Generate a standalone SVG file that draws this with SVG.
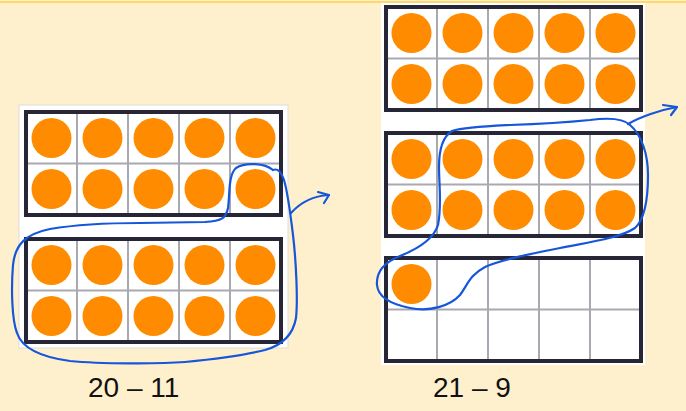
<svg xmlns="http://www.w3.org/2000/svg" xmlns:xlink="http://www.w3.org/1999/xlink" width="686" height="411" viewBox="0 0 686 411">
  <style>
    .panel { fill: #ffffff; stroke: #dcdcdc; stroke-width: 1; }
    .cell { fill: #ffffff; }
    .grid { stroke: #a9a9b2; stroke-width: 2; fill: none; }
    .border { fill: none; stroke: #262637; stroke-width: 4; }
    .dot { fill: #ff8c00; }
    .lasso { fill: none; stroke: #1656db; stroke-width: 2.2; stroke-linecap: round; stroke-linejoin: round; }
    .label { font-family: "Liberation Sans", Arial, sans-serif; font-size: 28px; fill: #111111; }
  </style>
  <defs>
    <g id="frame">
      <rect class="cell" x="0" y="0" width="255" height="103"/>
      <path class="grid" d="M51,0V103M102,0V103M153,0V103M204,0V103M0,51.5H255"/>
      <rect class="border" x="0" y="0" width="255" height="103"/>
    </g>
    <g id="row">
      <circle class="dot" cx="25.5" cy="0" r="20"/>
      <circle class="dot" cx="76.5" cy="0" r="20"/>
      <circle class="dot" cx="127.5" cy="0" r="20"/>
      <circle class="dot" cx="178.5" cy="0" r="20"/>
      <circle class="dot" cx="229.5" cy="0" r="20"/>
    </g>
  </defs>

  <rect x="0" y="0" width="686" height="411" fill="#fff0cd"/>
  <rect x="0" y="1" width="686" height="2" fill="#fdd86a"/>

  <g id="left-panel">
    <rect class="panel" x="19" y="105" width="269" height="243"/>
    <g id="left-top-frame" transform="translate(26,112)">
      <use xlink:href="#frame"/>
      <use xlink:href="#row" transform="translate(0,26)"/>
      <use xlink:href="#row" transform="translate(0,77)"/>
    </g>
    <g id="left-bottom-frame" transform="translate(26,239)">
      <use xlink:href="#frame"/>
      <use xlink:href="#row" transform="translate(0,26)"/>
      <use xlink:href="#row" transform="translate(0,77)"/>
    </g>
  </g>

  <g id="right-panel">
    <rect x="381" y="3" width="264" height="362" fill="#ffffff"/>
    <g id="right-top-frame" transform="translate(386,7)">
      <use xlink:href="#frame"/>
      <use xlink:href="#row" transform="translate(0,26)"/>
      <use xlink:href="#row" transform="translate(0,77)"/>
    </g>
    <g id="right-middle-frame" transform="translate(386,133)">
      <use xlink:href="#frame"/>
      <use xlink:href="#row" transform="translate(0,26)"/>
      <use xlink:href="#row" transform="translate(0,77)"/>
    </g>
    <g id="right-bottom-frame" transform="translate(386,258)">
      <use xlink:href="#frame"/>
      <circle class="dot" cx="25.5" cy="26" r="20"/>
    </g>
  </g>

  <g id="connectors">
    <path class="lasso" d="M 273,170 C 265,163 245,162 236,168 C 228,175 230,195 228,208 C 226,218 222,221 205,222 L 140,223 C 110,223 80,224 50,229 C 25,234 15,245 13,265 C 11,290 12,320 17,333 C 22,348 40,357 70,361 C 100,364 160,364 185,362 C 215,359 245,355 265,350 C 283,345 293,335 296,318 C 298,300 296,260 293,235 C 290,210 287,190 284,180 C 281,172 278,168 273,170"/>
    <path class="lasso" d="M 291,213 C 300,203 312,196 329,195"/>
    <path class="lasso" d="M 318,192 L 329,195 L 324,203"/>

    <path class="lasso" d="M 630,125 C 622,117 605,118 590,120 C 570,122 540,124 510,125 C 490,126 465,127 452,131 C 442,137 439,150 439,167 C 439,185 442,205 438,225 C 434,238 420,248 400,256 C 385,262 376,272 377,285 C 378,297 390,304 410,308 C 430,312 450,306 460,295 C 468,284 470,275 485,267 C 500,260 530,254 560,248 C 590,242 620,238 635,228 C 646,218 648,195 648,175 C 648,155 642,135 630,125"/>
    <path class="lasso" d="M 628,124 C 640,117 660,110 677,107"/>
    <path class="lasso" d="M 663,105 L 677,107 L 671,115"/>
  </g>

  <text class="label" x="88" y="397">20 – 11</text>
  <text class="label" x="433" y="397">21 – 9</text>
</svg>
